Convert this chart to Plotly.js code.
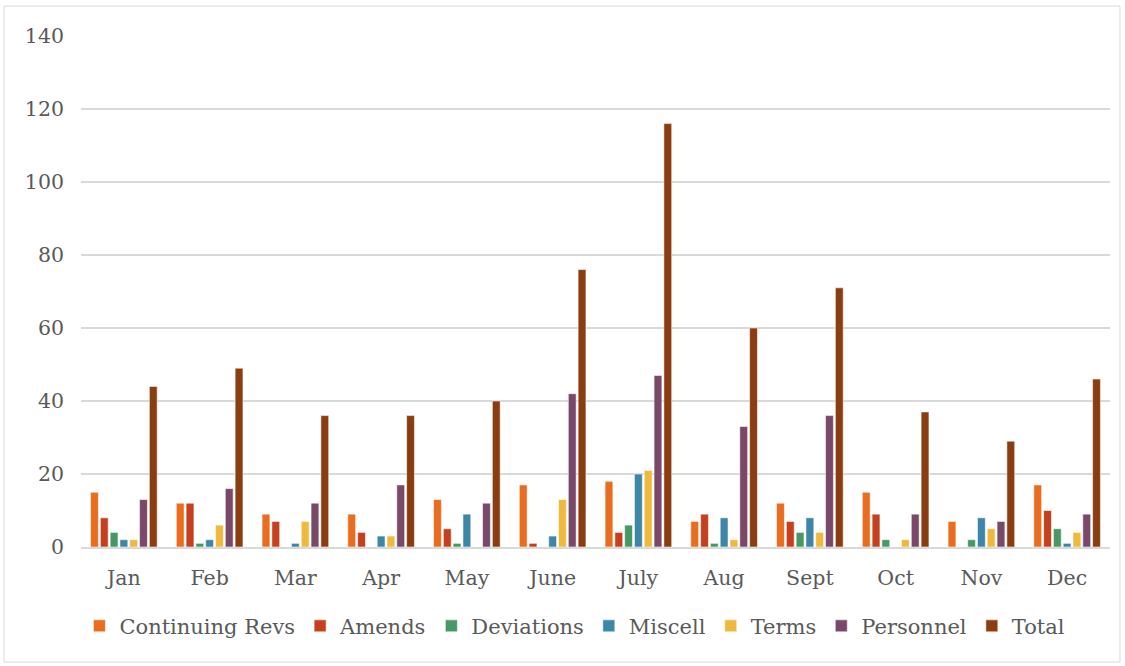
<!DOCTYPE html>
<html>
<head>
<meta charset="utf-8">
<script src="https://cdn.plot.ly/plotly-3.0.1.min.js"></script>
<style>html,body{margin:0;padding:0;background:#fff;}#chart{width:1125px;height:666px;}</style>
</head>
<body>
<div id="chart"></div>
<script>
const months = ["Jan","Feb","Mar","Apr","May","June","July","Aug","Sept","Oct","Nov","Dec"];
const continuingRevs = [15,12,9,9,13,17,18,7,12,15,7,17];
const amends        = [8,12,7,4,5,1,4,9,7,9,0,10];
const deviations    = [4,1,0,0,1,0,6,1,4,2,2,5];
const miscell       = [2,2,1,3,9,3,20,8,8,0,8,1];
const terms         = [2,6,7,3,0,13,21,2,4,2,5,4];
const personnel     = [13,16,12,17,12,42,47,33,36,9,7,9];
const total         = [44,49,36,36,40,76,116,60,71,37,29,46];
const yTicks = [0,20,40,60,80,100,120,140];

const seriesNames = ["Continuing Revs","Amends","Deviations","Miscell","Terms","Personnel","Total"];
const seriesData = [continuingRevs, amends, deviations, miscell, terms, personnel, total];
const seriesColors = ["#E96C1F","#C4401F","#489866","#3D86A5","#EEB93C","#7A4869","#8A3D10"];

const traces = seriesNames.map((n,i)=>({
  type:'bar', name:n, x:months, y:seriesData[i],
  marker:{color:seriesColors[i], line:{color:'rgba(255,255,255,0.55)', width:1}},
  hoverinfo:'x+y+name'
}));

const fontFam = '"DejaVu Serif", "Liberation Serif", serif';
const layout = {
  width:1125, height:666,
  margin:{l:81, r:15, t:36, b:119},
  paper_bgcolor:'#fff', plot_bgcolor:'#fff',
  barmode:'group', bargap:0.2, bargroupgap:0.2,
  font:{family:fontFam, color:'#595959', size:18},
  xaxis:{
    type:'category', showgrid:false, zeroline:false,
    showline:true, linecolor:'#d9d9d9', linewidth:2,
    ticks:'', ticklabelstandoff:11,
    tickfont:{family:fontFam, size:20.5, color:'#595959'}
  },
  yaxis:{
    range:[0,140], tickvals:yTicks, showgrid:true, gridcolor:'#d9d9d9', gridwidth:2,
    zeroline:false, showline:false, ticks:'', ticklabelstandoff:16,
    tickfont:{family:fontFam, size:20.5, color:'#595959'}
  },
  legend:{
    orientation:'h', x:0.48, xanchor:'center', y:-0.155, yanchor:'middle',
    font:{family:fontFam, size:21, color:'#595959'},
    itemwidth:30, tracegroupgap:0
  },
  shapes:[{type:'rect', xref:'paper', yref:'paper',
    x0:-0.0748, x1:1.0097, y0:-0.225, y1:1.0587,
    line:{color:'#d9d9d9', width:1}, fillcolor:'rgba(0,0,0,0)', layer:'below'}],
  showlegend:true
};

Plotly.newPlot('chart', traces, layout, {displayModeBar:false, staticPlot:true});
</script>
</body>
</html>
